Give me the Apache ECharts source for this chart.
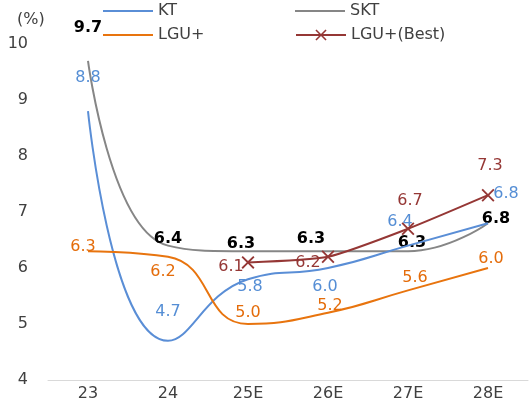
<!DOCTYPE html>
<html>
<head>
<meta charset="utf-8">
<script src="https://cdn.jsdelivr.net/npm/echarts@6/dist/echarts.min.js"></script>
<style>
  html, body { margin: 0; padding: 0; background: #fff; }
  #chart { width: 532px; height: 416px; }
</style>
</head>
<body>
<div id="chart"></div>
<script>
// 数据
const years = ['23', '24', '25E', '26E', '27E', '28E']
const ktValues = [8.8, 4.7, 5.8, 6.0, 6.4, 6.8]
const sktValues = [9.7, 6.4, 6.3, 6.3, 6.3, 6.8]
const lguValues = [6.3, 6.2, 5.0, 5.2, 5.6, 6.0]
const lguBestValues = ['-', '-', 6.1, 6.2, 6.7, 7.3]

// 标签偏移 (相对数据点)
const ktOffsets = [[0, -33], [0, -29], [2, 8], [-3, 19], [-8, -24], [18, -29]]
const sktOffsets = [[0, -33], [0, -7], [-7, -7], [-17, -12], [4, -8], [8, -4]]
const lguOffsets = [[-5, -4], [-5, 15], [0, -11], [2, -7], [7, -13], [3, -9]]
const bestOffsets = [null, null, [-17, 4], [-20, 6], [2, -28], [2, -29]]

const font = 'DejaVu Sans'
const xMark = 'path://M0,1L1,0L5,4L9,0L10,1L6,5L10,9L9,10L5,6L1,10L0,9L4,5Z'

const withOffsets = (values, offsets) =>
  values.map((v, i) => (v === '-' ? v : { value: v, label: { offset: offsets[i] } }))

const labelStyle = (color, bold) => ({
  show: true,
  position: 'inside',
  color,
  fontFamily: font,
  fontSize: 16,
  fontWeight: bold ? 'bold' : 'normal',
  formatter: (p) => p.value.toFixed(1),
})

const chart = echarts.init(document.getElementById('chart'))

const legendBase = {
  orient: 'horizontal',
  padding: 0,
  itemWidth: 50,
  textStyle: { fontFamily: font, fontSize: 16, color: '#404040' },
}

const option = {
  animation: false,
  title: {
    text: '(%)',
    left: 12,
    top: 7,
    textStyle: { fontFamily: font, fontSize: 16, fontWeight: 'normal', color: '#404040' },
  },
  legend: [
    { ...legendBase, left: 103, top: 3, itemHeight: 2, icon: 'rect', data: ['KT'] },
    { ...legendBase, left: 295, top: 3, itemHeight: 2, icon: 'rect', data: ['SKT'] },
    { ...legendBase, left: 103, top: 27, itemHeight: 2, icon: 'rect', data: ['LGU+'] },
    { ...legendBase, left: 295, top: 27, itemHeight: 14, data: ['LGU+(Best)'] },
  ],
  grid: { left: 48, right: 4, top: 44, bottom: 36 },
  xAxis: {
    type: 'category',
    data: years,
    boundaryGap: true,
    axisTick: { show: false },
    axisLine: { lineStyle: { color: '#D9D9D9', width: 1 } },
    axisLabel: { fontFamily: font, fontSize: 16, color: '#404040', margin: 6 },
  },
  yAxis: {
    type: 'value',
    min: 4,
    max: 10,
    interval: 1,
    splitLine: { show: false },
    axisLine: { show: false },
    axisTick: { show: false },
    axisLabel: { fontFamily: font, fontSize: 16, color: '#404040', margin: 20 },
  },
  series: [
    {
      name: 'KT',
      type: 'line',
      smooth: true,
      symbol: 'circle',
      symbolSize: 0,
      color: '#5A8ED6',
      lineStyle: { width: 2 },
      label: labelStyle('#558ED5'),
      data: withOffsets(ktValues, ktOffsets),
      z: 3,
    },
    {
      name: 'SKT',
      type: 'line',
      smooth: true,
      symbol: 'circle',
      symbolSize: 0,
      color: '#868686',
      lineStyle: { width: 2 },
      label: labelStyle('#000000', true),
      data: withOffsets(sktValues, sktOffsets),
      z: 2,
    },
    {
      name: 'LGU+',
      type: 'line',
      smooth: true,
      symbol: 'circle',
      symbolSize: 0,
      color: '#E8740E',
      lineStyle: { width: 2 },
      label: labelStyle('#E46C0A'),
      data: withOffsets(lguValues, lguOffsets),
      z: 3,
    },
    {
      name: 'LGU+(Best)',
      type: 'line',
      smooth: 0.2,
      symbol: xMark,
      symbolSize: 13,
      color: '#953735',
      lineStyle: { width: 2 },
      label: labelStyle('#953735'),
      data: withOffsets(lguBestValues, bestOffsets),
      z: 4,
    },
  ],
}

chart.setOption(option)
</script>
</body>
</html>
